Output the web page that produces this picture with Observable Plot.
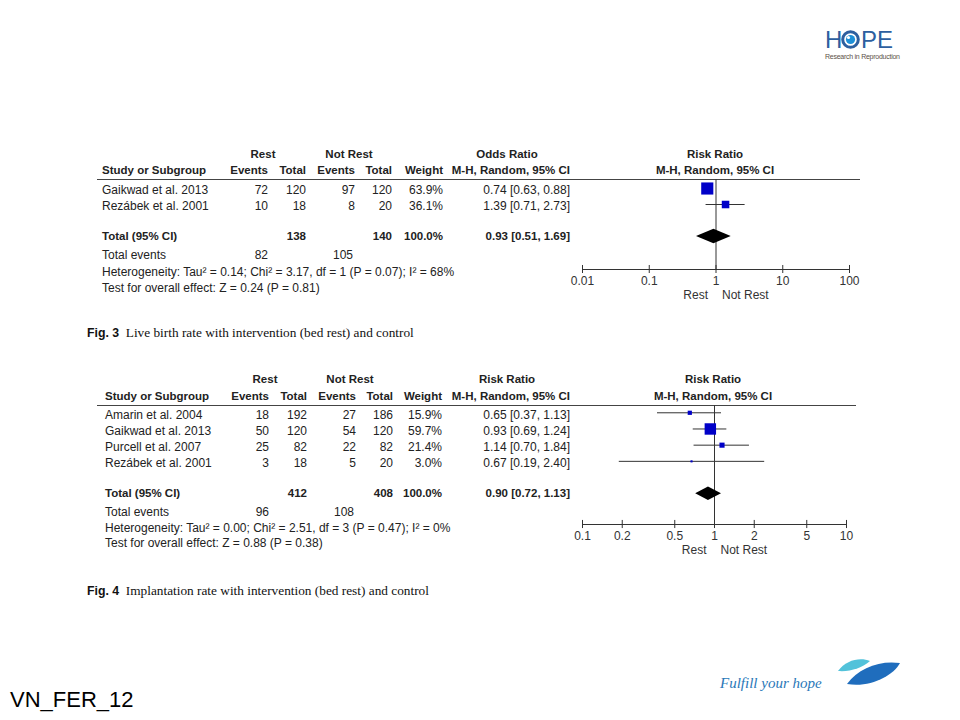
<!DOCTYPE html>
<html><head><meta charset="utf-8">
<script src="https://cdn.jsdelivr.net/npm/d3@7"></script>
<script src="https://cdn.jsdelivr.net/npm/@observablehq/plot@0.6"></script>
<style>
html,body{margin:0;padding:0;background:#fff;}
#slide{position:relative;width:960px;height:720px;overflow:hidden;background:#fff;}
.hline{position:absolute;height:0;border-top:1px solid #444;}
.plotbox{position:absolute;}
</style>
</head><body>
<div id="slide"></div>
<script>
// ---------- Fig. 3 data ----------
const fig3Studies = ["Gaikwad et al. 2013", "Rezábek et al. 2001"];
const fig3RestEvents = [72, 10];
const fig3RestTotal = [120, 18];
const fig3CtrlEvents = [97, 8];
const fig3CtrlTotal = [120, 20];
const fig3Weight = [63.9, 36.1];
const fig3Ratio = [0.74, 1.39];
const fig3Lower = [0.63, 0.71];
const fig3Upper = [0.88, 2.73];
const fig3Pooled = [0.93, 0.51, 1.69];
const fig3Totals = [138, 140, 100.0];
const fig3TotalEvents = [82, 105];
const fig3Heterogeneity = "Heterogeneity: Tau² = 0.14; Chi² = 3.17, df = 1 (P = 0.07); I² = 68%";
const fig3Overall = "Test for overall effect: Z = 0.24 (P = 0.81)";
const fig3TableHead = "Odds Ratio";
const fig3Ticks = [0.01, 0.1, 1, 10, 100];
const fig3TickLabels = ["0.01", "0.1", "1", "10", "100"];
const fig3Caption = ["Fig. 3", "Live birth rate with intervention (bed rest) and control"];

// ---------- Fig. 4 data ----------
const fig4Studies = ["Amarin et al. 2004", "Gaikwad et al. 2013", "Purcell et al. 2007", "Rezábek et al. 2001"];
const fig4RestEvents = [18, 50, 25, 3];
const fig4RestTotal = [192, 120, 82, 18];
const fig4CtrlEvents = [27, 54, 22, 5];
const fig4CtrlTotal = [186, 120, 82, 20];
const fig4Weight = [15.9, 59.7, 21.4, 3.0];
const fig4Ratio = [0.65, 0.93, 1.14, 0.67];
const fig4Lower = [0.37, 0.69, 0.70, 0.19];
const fig4Upper = [1.13, 1.24, 1.84, 2.40];
const fig4Pooled = [0.90, 0.72, 1.13];
const fig4Totals = [412, 408, 100.0];
const fig4TotalEvents = [96, 108];
const fig4Heterogeneity = "Heterogeneity: Tau² = 0.00; Chi² = 2.51, df = 3 (P = 0.47); I² = 0%";
const fig4Overall = "Test for overall effect: Z = 0.88 (P = 0.38)";
const fig4TableHead = "Risk Ratio";
const fig4Ticks = [0.1, 0.2, 0.5, 1, 2, 5, 10];
const fig4TickLabels = ["0.1", "0.2", "0.5", "1", "2", "5", "10"];
const fig4Caption = ["Fig. 4", "Implantation rate with intervention (bed rest) and control"];

// ---------- shared labels ----------
const groupLabels = ["Rest", "Not Rest"];
const colHeads = ["Study or Subgroup", "Events", "Total", "Events", "Total", "Weight", "M-H, Random, 95% CI"];
const graphHead = ["Risk Ratio", "M-H, Random, 95% CI"];
const totalLabels = ["Total (95% CI)", "Total events"];
const slideLabel = "VN_FER_12";
const tagline = "Fulfill your hope";

// ---------- layout ----------
const SANS = '"Liberation Sans", Arial, sans-serif';
const SERIF = '"Liberation Serif", "Times New Roman", serif';
const BOLD = 11.5;
const slide = document.getElementById("slide");

function put(text, x, cy, opt = {}) {
  const size = opt.size || (opt.bold ? BOLD : 12);
  const el = document.createElement("div");
  el.textContent = text;
  const tx = opt.align === "right" ? "-100%" : opt.align === "center" ? "-50%" : "0";
  el.style.cssText = `position:absolute;white-space:nowrap;line-height:1;font-size:${size}px;` +
    `font-family:${opt.family || SANS};color:${opt.color || "#222"};` +
    `font-weight:${opt.bold ? "bold" : "normal"};font-style:${opt.italic ? "italic" : "normal"};` +
    `top:${cy - 0.49 * size}px;left:${x}px;transform:translateX(${tx});` + (opt.css || "");
  (opt.parent || slide).appendChild(el);
  return el;
}
function hline(x1, x2, y) {
  const el = document.createElement("div");
  el.className = "hline";
  el.style.left = x1 + "px"; el.style.width = (x2 - x1) + "px"; el.style.top = y + "px";
  slide.appendChild(el);
}
const f2 = v => v.toFixed(2);
const ci = (e, l, h) => `${f2(e)} [${f2(l)}, ${f2(h)}]`;
const pct = w => w.toFixed(1) + "%";

function forestPlot(d, L) {
  const rows = d.studies.map((s, i) => ({row: i, est: d.ratio[i], lo: d.lower[i], hi: d.upper[i], w: d.weight[i]}));
  const totalRow = d.studies.length + 1;
  const [pe, pl, ph] = d.pooled;
  const dh = L.diamondHalf;
  const diamond = [
    {x: pl, y1: totalRow, y2: totalRow},
    {x: pe, y1: totalRow - dh, y2: totalRow + dh},
    {x: ph, y1: totalRow, y2: totalRow}
  ];
  const ax = L.axisRow;
  const ticks = d.ticks.map((t, i) => ({t, label: d.tickLabels[i]}));
  const xmin = d.ticks[0], xmax = d.ticks[d.ticks.length - 1];
  return Plot.plot({
    width: L.svgW, height: L.svgH,
    marginLeft: L.mL, marginRight: L.mR, marginTop: 0, marginBottom: L.svgH - L.axisPx,
    style: {background: "transparent", overflow: "visible", fontFamily: SANS, fontSize: "12px", color: "#333"},
    x: {type: "log", domain: [xmin, xmax], axis: null},
    y: {type: "linear", domain: [L.topRow, ax], reverse: true, axis: null},
    r: {type: "linear", domain: [0, 100], range: [0.9, 10.2]},
    marks: [
      Plot.ruleY(rows, {y: "row", x1: "lo", x2: "hi", stroke: "#333", strokeWidth: 1}),
      Plot.ruleX([1], {y1: L.topRow, y2: ax, stroke: "#333", strokeWidth: 1}),
      Plot.dot(rows, {x: "est", y: "row", r: "w", symbol: "square", fill: "#0000c8", stroke: null}),
      Plot.area(diamond, {x1: "x", y1: "y1", y2: "y2", fill: "#000", curve: "linear"}),
      Plot.ruleY([ax], {x1: xmin, x2: xmax, stroke: "#333", strokeWidth: 1}),
      Plot.ruleX(ticks, {x: "t", y1: ax - L.tick, y2: ax + L.tick, stroke: "#333", strokeWidth: 1}),
      Plot.text(ticks, {x: "t", y: ax, dy: 12, text: "label", fill: "#333", fontSize: 12}),
      Plot.text([groupLabels[0]], {x: 1, y: ax, dy: 26, dx: -8, text: d => d, textAnchor: "end", fill: "#333", fontSize: 12}),
      Plot.text([groupLabels[1]], {x: 1, y: ax, dy: 26, dx: 6, text: d => d, textAnchor: "start", fill: "#333", fontSize: 12})
    ]
  });
}

function figure(d, L) {
  const C = L.cols;
  // header rows
  put(groupLabels[0], L.restC, L.h1, {bold: true, align: "center"});
  put(groupLabels[1], L.notRestC, L.h1, {bold: true, align: "center"});
  put(d.tableHead, L.ratioC, L.h1, {bold: true, align: "center"});
  put(graphHead[0], L.graphC, L.h1, {bold: true, align: "center"});
  put(colHeads[0], L.studyX, L.h2, {bold: true});
  for (let k = 1; k <= 6; k++) put(colHeads[k], C[k - 1], L.h2, {bold: true, align: "right"});
  put(graphHead[1], L.graphC, L.h2, {bold: true, align: "center"});
  hline(L.lineX1, L.lineX2, L.line);
  // study rows
  d.studies.forEach((s, i) => {
    const y = L.row0 + i * L.step;
    put(s, L.studyX, y);
    put(String(d.restEvents[i]), C[0], y, {align: "right"});
    put(String(d.restTotal[i]), C[1], y, {align: "right"});
    put(String(d.ctrlEvents[i]), C[2], y, {align: "right"});
    put(String(d.ctrlTotal[i]), C[3], y, {align: "right"});
    put(pct(d.weight[i]), C[4], y, {align: "right"});
    put(ci(d.ratio[i], d.lower[i], d.upper[i]), C[5], y, {align: "right"});
  });
  // total
  put(totalLabels[0], L.studyX, L.total, {bold: true});
  put(String(d.totals[0]), C[1], L.total, {bold: true, align: "right"});
  put(String(d.totals[1]), C[3], L.total, {bold: true, align: "right"});
  put(pct(d.totals[2]), C[4], L.total, {bold: true, align: "right"});
  put(ci(d.pooled[0], d.pooled[1], d.pooled[2]), C[5], L.total, {bold: true, align: "right"});
  put(totalLabels[1], L.studyX, L.events);
  put(String(d.totalEvents[0]), C[0], L.events, {align: "right"});
  put(String(d.totalEvents[1]), C[2] - 2, L.events, {align: "right"});
  put(d.het, L.studyX, L.het);
  put(d.overall, L.studyX, L.test);
  // caption
  const cap = put("", L.capX, L.capY, {size: 13.3, family: SERIF, color: "#111"});
  const b = document.createElement("span");
  b.textContent = d.caption[0];
  b.style.cssText = `font-family:${SANS};font-weight:bold;font-size:12.3px;`;
  const t = document.createElement("span");
  t.textContent = "\u2002" + d.caption[1];
  cap.appendChild(b); cap.appendChild(t);
  // graph
  const box = document.createElement("div");
  box.className = "plotbox";
  box.style.left = L.svgX + "px"; box.style.top = L.svgY + "px";
  box.appendChild(forestPlot(d, L));
  slide.appendChild(box);
}

figure(
  {studies: fig3Studies, restEvents: fig3RestEvents, restTotal: fig3RestTotal, ctrlEvents: fig3CtrlEvents,
   ctrlTotal: fig3CtrlTotal, weight: fig3Weight, ratio: fig3Ratio, lower: fig3Lower, upper: fig3Upper,
   pooled: fig3Pooled, totals: fig3Totals, totalEvents: fig3TotalEvents, het: fig3Heterogeneity,
   overall: fig3Overall, tableHead: fig3TableHead, ticks: fig3Ticks, tickLabels: fig3TickLabels, caption: fig3Caption},
  {studyX: 102, cols: [268, 306, 355, 392, 443, 570], restC: 263, notRestC: 349, ratioC: 507, graphC: 715,
   h1: 155, h2: 171, line: 179, lineX1: 97, lineX2: 860, row0: 190, step: 16, total: 237, events: 255, het: 272, test: 288,
   capX: 87, capY: 333,
   svgX: 560, svgY: 179, svgW: 310, svgH: 125, mL: 22, mR: 21, axisPx: 90, topRow: -0.5625, axisRow: 5.06,
   diamondHalf: 0.45, tick: 0.25}
);

figure(
  {studies: fig4Studies, restEvents: fig4RestEvents, restTotal: fig4RestTotal, ctrlEvents: fig4CtrlEvents,
   ctrlTotal: fig4CtrlTotal, weight: fig4Weight, ratio: fig4Ratio, lower: fig4Lower, upper: fig4Upper,
   pooled: fig4Pooled, totals: fig4Totals, totalEvents: fig4TotalEvents, het: fig4Heterogeneity,
   overall: fig4Overall, tableHead: fig4TableHead, ticks: fig4Ticks, tickLabels: fig4TickLabels, caption: fig4Caption},
  {studyX: 105, cols: [269, 307, 356, 393, 442, 570], restC: 265, notRestC: 350, ratioC: 507, graphC: 713,
   h1: 380, h2: 397, line: 405, lineX1: 97, lineX2: 856, row0: 415, step: 16, total: 494, events: 512, het: 528, test: 543,
   capX: 87, capY: 591,
   svgX: 560, svgY: 405, svgW: 310, svgH: 155, mL: 22, mR: 24, axisPx: 119, topRow: -0.45, axisRow: 6.9,
   diamondHalf: 0.42, tick: 0.25}
);

// ---------- slide decorations ----------
put(slideLabel, 10, 700, {size: 22, color: "#000"});
put(tagline, 720, 683, {size: 15, family: SERIF, italic: true, color: "#2a78b8"});

const deco = document.createElementNS("http://www.w3.org/2000/svg", "svg");
deco.setAttribute("width", 960); deco.setAttribute("height", 720);
deco.style.cssText = "position:absolute;left:0;top:0;pointer-events:none;";
deco.innerHTML = `
  <g font-family='${SANS}'>
    <text x="825" y="48" font-size="24" fill="#2d5f9f">H</text>
    <circle cx="850.5" cy="39.5" r="7.8" fill="none" stroke="#2d5f9f" stroke-width="3"/>
    <circle cx="850.5" cy="39.5" r="4.6" fill="#1e90d8"/>
    <circle cx="848.5" cy="37.5" r="1.6" fill="#ffffff"/>
    <text x="861" y="48" font-size="24" fill="#2d5f9f">PE</text>
    <text x="825" y="59" font-size="7" fill="#5d5148" textLength="75">Research in Reproduction</text>
  </g>
  <path d="M838,671 C846,660 860,657 870,661 C862,668 850,672 838,671 Z" fill="#52c2da"/>
  <path d="M847,684 C858,668 880,660 900,663 C893,676 870,688 847,684 Z" fill="#1f6dbd"/>
`;
slide.appendChild(deco);
</script>
</body></html>
